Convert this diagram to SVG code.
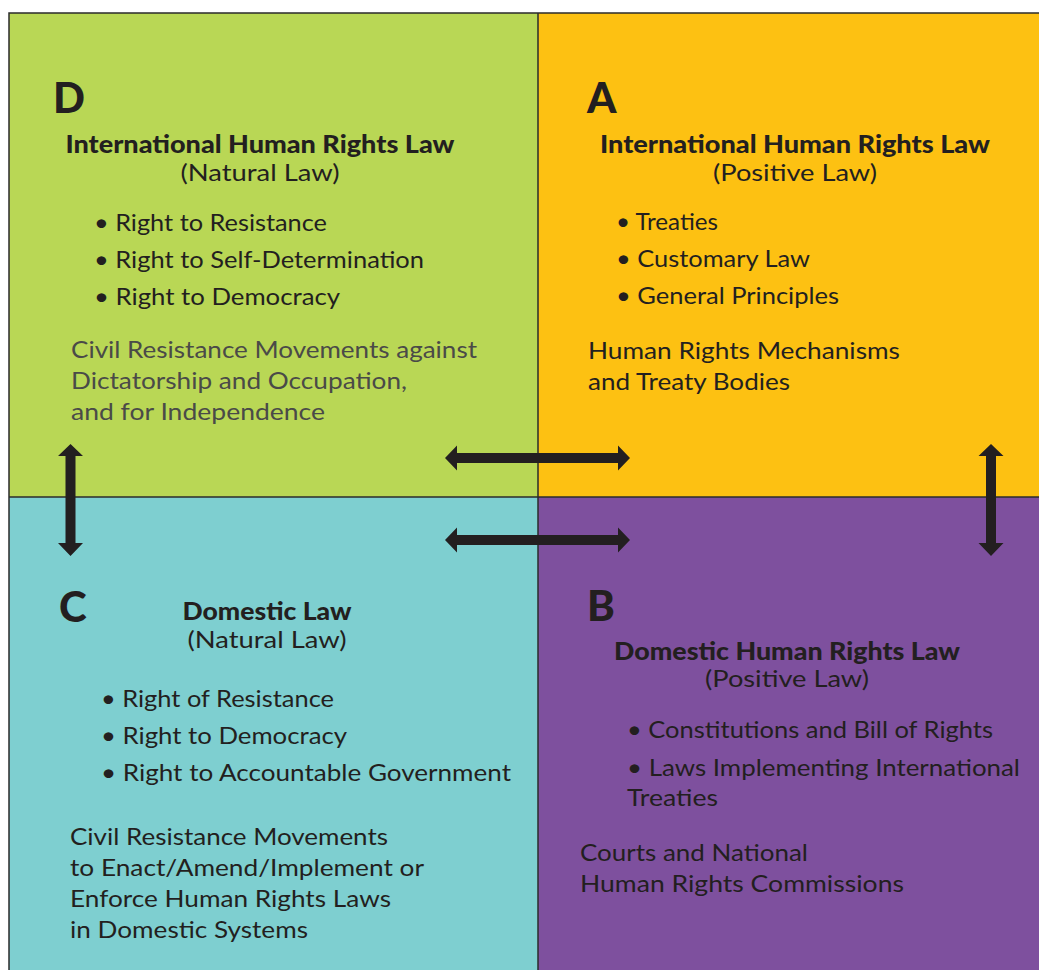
<svg xmlns="http://www.w3.org/2000/svg" width="1039" height="970" viewBox="0 0 1039 970">
<style>
.t{font-family:Lato,"Liberation Sans",sans-serif;fill:#231F20;}
.letter{font-size:42px;font-weight:900;}
.title{font-size:24px;font-weight:900;text-anchor:middle;}
.sub{font-size:24px;text-anchor:middle;}
.body{font-size:24px;}
.grey{fill:#4A4A48;}
.arrow{fill:#231F20;}
.div{stroke:#2B2B2B;stroke-width:1.5;fill:none;}
</style>
<rect width="1039" height="970" fill="#FFFFFF"/>
<g id="quadD">
<rect x="9" y="13" width="529" height="484" fill="#B9D755"/>
<text class="t letter" x="53" y="113">D</text>
<text class="t title" x="260" y="153" textLength="389" lengthAdjust="spacingAndGlyphs">International Human Rights Law</text>
<text class="t sub" x="260" y="181" textLength="159" lengthAdjust="spacingAndGlyphs">(Natural Law)</text>
<text class="t body" x="94" y="231" textLength="233" lengthAdjust="spacingAndGlyphs">• Right to Resistance</text>
<text class="t body" x="94" y="268" textLength="330" lengthAdjust="spacingAndGlyphs">• Right to Self-Determination</text>
<text class="t body" x="94" y="305" textLength="246" lengthAdjust="spacingAndGlyphs">• Right to Democracy</text>
<text class="t body grey" x="71" y="358" textLength="406" lengthAdjust="spacingAndGlyphs">Civil Resistance Movements against</text>
<text class="t body grey" x="71" y="389" textLength="336" lengthAdjust="spacingAndGlyphs">Dictatorship and Occupation,</text>
<text class="t body grey" x="71" y="420" textLength="254" lengthAdjust="spacingAndGlyphs">and for Independence</text>
</g>
<g id="quadA">
<rect x="538" y="13" width="501" height="484" fill="#FDC112"/>
<text class="t letter" x="587" y="113">A</text>
<text class="t title" x="795" y="153" textLength="390" lengthAdjust="spacingAndGlyphs">International Human Rights Law</text>
<text class="t sub" x="795" y="181" textLength="164" lengthAdjust="spacingAndGlyphs">(Positive Law)</text>
<text class="t body" x="616" y="230" textLength="102" lengthAdjust="spacingAndGlyphs">• Treaties</text>
<text class="t body" x="616" y="267" textLength="194" lengthAdjust="spacingAndGlyphs">• Customary Law</text>
<text class="t body" x="616" y="304" textLength="223" lengthAdjust="spacingAndGlyphs">• General Principles</text>
<text class="t body" x="588" y="359" textLength="312" lengthAdjust="spacingAndGlyphs">Human Rights Mechanisms</text>
<text class="t body" x="588" y="390" textLength="202" lengthAdjust="spacingAndGlyphs">and Treaty Bodies</text>
</g>
<g id="quadC">
<rect x="9" y="497" width="529" height="473" fill="#7ECFD0"/>
<text class="t letter" x="59" y="622">C</text>
<text class="t title" x="267" y="620" textLength="169" lengthAdjust="spacingAndGlyphs">Domestic Law</text>
<text class="t sub" x="267" y="648" textLength="159" lengthAdjust="spacingAndGlyphs">(Natural Law)</text>
<text class="t body" x="101" y="707" textLength="233" lengthAdjust="spacingAndGlyphs">• Right of Resistance</text>
<text class="t body" x="101" y="744" textLength="246" lengthAdjust="spacingAndGlyphs">• Right to Democracy</text>
<text class="t body" x="101" y="781" textLength="410" lengthAdjust="spacingAndGlyphs">• Right to Accountable Government</text>
<text class="t body" x="70" y="845" textLength="318" lengthAdjust="spacingAndGlyphs">Civil Resistance Movements</text>
<text class="t body" x="70" y="876" textLength="354" lengthAdjust="spacingAndGlyphs">to Enact/Amend/Implement or</text>
<text class="t body" x="70" y="907" textLength="321" lengthAdjust="spacingAndGlyphs">Enforce Human Rights Laws</text>
<text class="t body" x="70" y="938" textLength="238" lengthAdjust="spacingAndGlyphs">in Domestic Systems</text>
</g>
<g id="quadB">
<rect x="538" y="497" width="501" height="473" fill="#7E509E"/>
<text class="t letter" x="587" y="621">B</text>
<text class="t title" x="787" y="660" textLength="346" lengthAdjust="spacingAndGlyphs">Domestic Human Rights Law</text>
<text class="t sub" x="787" y="687" textLength="164" lengthAdjust="spacingAndGlyphs">(Positive Law)</text>
<text class="t body" x="627" y="738" textLength="366" lengthAdjust="spacingAndGlyphs">• Constitutions and Bill of Rights</text>
<text class="t body" x="627" y="776" textLength="393" lengthAdjust="spacingAndGlyphs">• Laws Implementing International</text>
<text class="t body" x="627" y="806" textLength="91" lengthAdjust="spacingAndGlyphs">Treaties</text>
<text class="t body" x="580" y="861" textLength="228" lengthAdjust="spacingAndGlyphs">Courts and National</text>
<text class="t body" x="580" y="892" textLength="324" lengthAdjust="spacingAndGlyphs">Human Rights Commissions</text>
</g>
<g id="dividers">
<path class="div" d="M9,970 V13 H1039"/>
<path class="div" d="M538,13 V970"/>
<path class="div" d="M9,497 H1039"/>
</g>
<g id="connectors">
<polygon class="arrow" points="445,458 457,445.5 457,453 618,453 618,445.5 630,458 618,470.5 618,463 457,463 457,470.5"/>
<polygon class="arrow" points="445,540 457,527.5 457,535 618,535 618,527.5 630,540 618,552.5 618,545 457,545 457,552.5"/>
<polygon class="arrow" points="70.5,444 83,456 75.5,456 75.5,543 83,543 70.5,556 58,543 65.5,543 65.5,456 58,456"/>
<polygon class="arrow" points="991,444 1003.5,456 996,456 996,543 1003.5,543 991,556 978.5,543 986,543 986,456 978.5,456"/>
</g>
</svg>
